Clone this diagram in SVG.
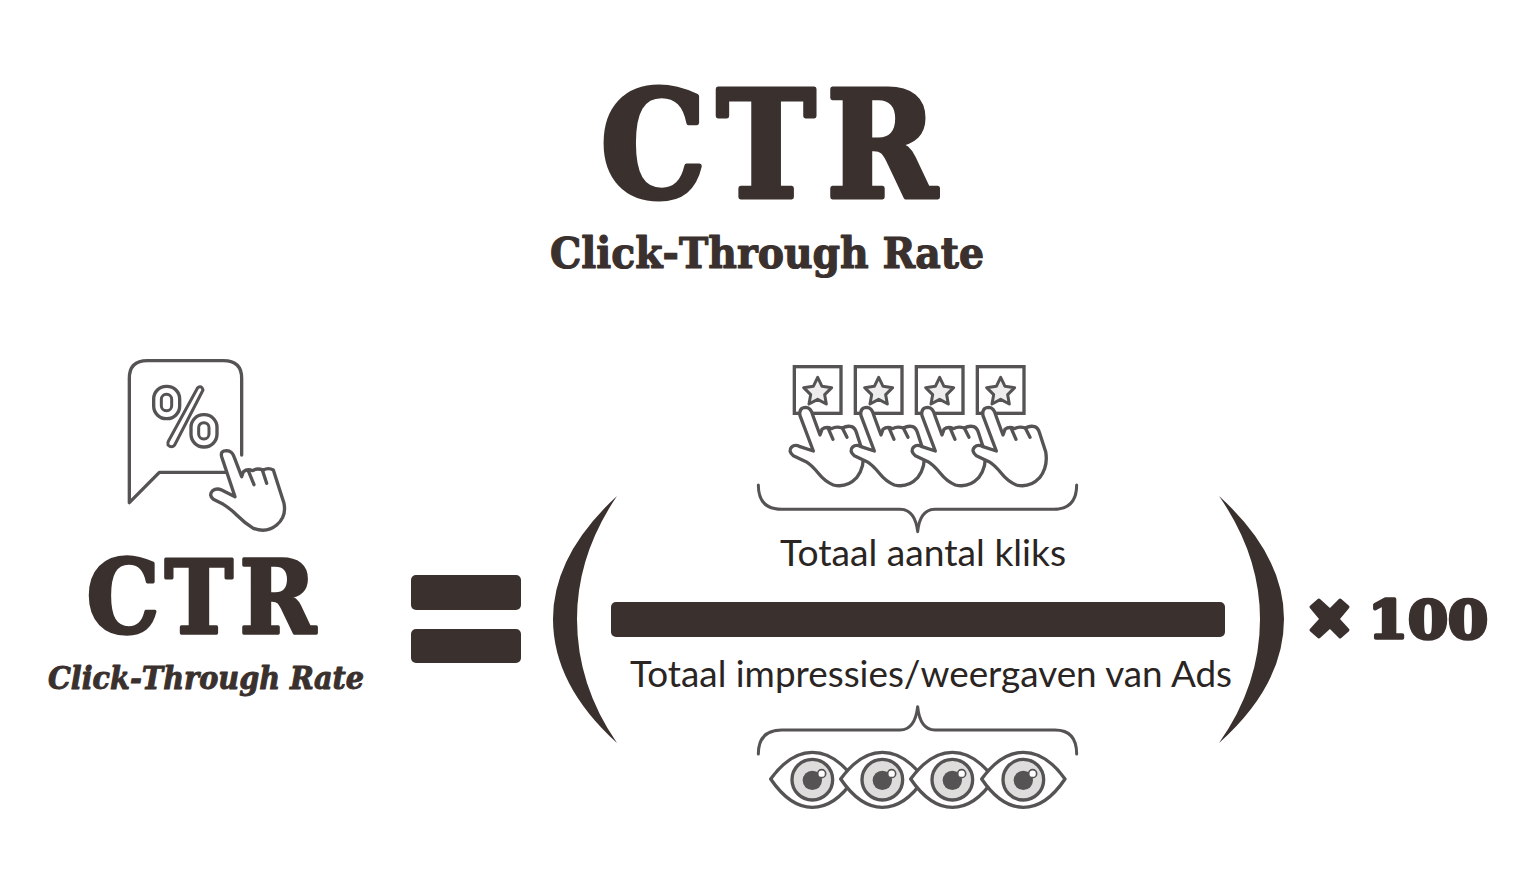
<svg xmlns="http://www.w3.org/2000/svg" width="1536" height="878" viewBox="0 0 1536 878">
<defs>
<style>
.ln{fill:none;stroke:#555353;stroke-linecap:round;stroke-linejoin:round}
.wf{fill:#fff;stroke:#555353;stroke-linecap:round;stroke-linejoin:round}
.dk{fill:#3a302d}
.slab{font-family:"DejaVu Serif",serif;font-weight:bold;fill:#3a302d;stroke:#3a302d;stroke-linejoin:round;font-kerning:none}
.body{font-family:Lato,"Open Sans",sans-serif;fill:#2a2523;font-size:36px}
</style>
<g id="hand"><path class="wf" stroke-width="10" d="M190 303L150 197Q146 172 168 172Q183 173 188 195L210 255L216 238Q228 228 245 236Q258 228 277 234Q292 226 305 230Q316 234 320 250L338 305Q346 350 320 383Q290 415 250 405Q225 395 205 370Q185 345 168 335L130 317Q113 303 125 291Q135 282 150 290Z"/><path class="ln" stroke-width="10" d="M235 236L249 268M277 234L291 262"/></g>
<g id="eye"><path class="wf" stroke-width="10" d="M62 237Q120 157 187 157Q255 157 312 237Q255 322 187 322Q120 322 62 237Z"/><circle cx="187" cy="239" r="61" fill="#dedddc" stroke="#555353" stroke-width="10"/><circle cx="187" cy="241" r="29" fill="#555353"/><circle cx="215" cy="221" r="12" fill="#fff" stroke="#555353" stroke-width="5"/></g>
<g id="box"><rect x="133" y="50" width="140" height="140" fill="#fff" stroke="#555353" stroke-width="10"/><path fill="#eeeded" stroke="#555353" stroke-width="9" stroke-linejoin="round" d="M203 82L216 109L245 113L224 134L229 162L203 148L177 162L182 134L161 113L190 109Z"/></g>
</defs>
<rect width="1536" height="878" fill="#fff"/>
<g id="title"><text class="slab" transform="translate(0 197) scale(.9 1)" x="667 796 918" y="0" font-size="148" stroke-width="5">CTR</text><text class="slab" x="767" y="268" text-anchor="middle" font-size="43" stroke-width="1.2" textLength="434" lengthAdjust="spacingAndGlyphs">Click-Through Rate</text></g>
<g id="percent-icon" transform="translate(60 340) scale(.33333)">
<path class="ln" stroke-width="10" d="M498 397L298 397L208 488L208 115Q208 62 262 62L490 62Q545 62 545 115L545 345"/>
<rect x="281" y="139" width="78" height="97" rx="38" class="ln" stroke-width="10"/><rect x="304" y="163" width="31" height="49" rx="15" class="ln" stroke-width="9"/>
<rect x="393" y="224" width="78" height="97" rx="38" class="ln" stroke-width="10"/><rect x="416" y="248" width="31" height="49" rx="15" class="ln" stroke-width="9"/>
<path class="ln" stroke-width="9" d="M413 143Q425 135 429 150L344 315Q335 326 324 315Q322 308 326 302Z"/>
<path class="wf" stroke-width="10" d="M525 470L485 350Q480 332 500 332Q516 333 522 350L545 410L550 395Q562 385 578 392Q590 383 610 390Q625 382 640 390L672 490Q680 530 650 555Q620 580 580 565Q555 550 530 525Q510 505 490 493L460 478Q445 465 458 452Q470 443 485 450Z"/>
<path class="ln" stroke-width="10" d="M566 395L582 434M607 390L620 430"/>
</g>
<g id="ctr-left"><text class="slab" transform="translate(0 633) scale(.9 1)" x="96 183 266" y="0" font-size="102" stroke-width="3.5">CTR</text><text class="slab" x="206" y="689" text-anchor="middle" font-size="32" font-style="italic" stroke-width="1" textLength="316" lengthAdjust="spacingAndGlyphs">Click-Through Rate</text></g>
<g id="equals"><rect class="dk" x="411" y="575" width="110" height="35" rx="5"/><rect class="dk" x="411" y="629" width="110" height="34" rx="5"/></g>
<g id="paren-left"><path class="dk" d="M617 496Q553 555 553 619Q553 685 617 743Q577 685 577 619Q577 555 617 496Z"/></g>
<g id="fraction-bar"><rect class="dk" x="611" y="602" width="614" height="35" rx="5"/></g>
<g id="paren-right"><path class="dk" d="M1219 496Q1284 555 1284 619Q1284 685 1219 743Q1260 685 1260 619Q1260 555 1219 496Z"/></g>
<g id="times-100"><path class="dk" stroke="#3a302d" stroke-width="3" stroke-linejoin="round" d="M1311 607L1319 600L1330 610L1340 600L1348 607L1338 619L1348 630L1340 637L1330 627L1319 637L1311 630L1321 619Z"/><text class="slab" x="1428" y="638" text-anchor="middle" font-size="52" stroke-width="3.5" textLength="120" lengthAdjust="spacingAndGlyphs">100</text></g>
<g id="clicks-icons" transform="translate(750 350) scale(.33333)">
<use href="#box"/><use href="#box" x="183"/><use href="#box" x="366"/><use href="#box" x="549"/>
<use href="#hand"/><use href="#hand" x="183"/><use href="#hand" x="366"/><use href="#hand" x="549"/>
<path class="ln" stroke-width="9" d="M25 405Q25 478 95 478L450 478Q495 478 503 545Q510 478 555 478L910 478Q980 478 980 405"/>
</g>
<g id="label-clicks"><text class="body" x="923" y="566" text-anchor="middle" textLength="286" lengthAdjust="spacingAndGlyphs">Totaal aantal kliks</text></g>
<g id="label-impressions"><text class="body" x="931" y="687" text-anchor="middle" textLength="602" lengthAdjust="spacingAndGlyphs">Totaal impressies/weergaven van Ads</text></g>
<g id="impressions-icons" transform="translate(750 700) scale(.33333)">
<path class="ln" stroke-width="9" d="M25 162Q25 90 95 90L450 90Q495 90 503 20Q510 90 555 90L915 90Q980 90 980 162"/>
<use href="#eye"/><use href="#eye" x="210"/><use href="#eye" x="420"/><use href="#eye" x="633"/>
</g>
</svg>
